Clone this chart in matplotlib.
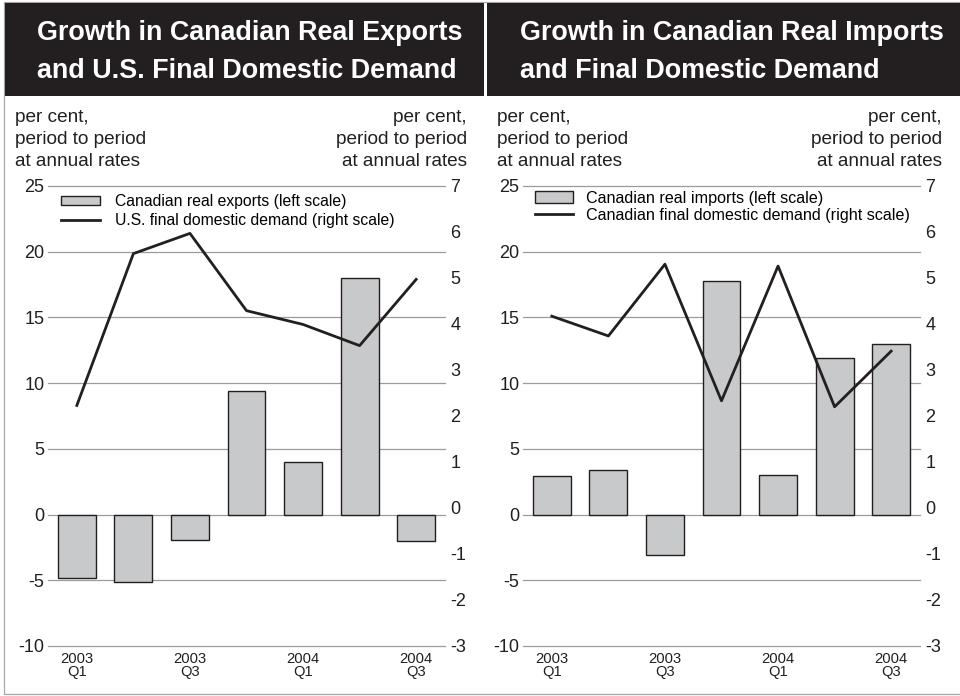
import matplotlib
matplotlib.use('Agg')
import matplotlib.pyplot as plt
from matplotlib.patches import Rectangle, Patch
from matplotlib.lines import Line2D
import numpy as np

# ---------------- data ----------------
quarters = ['2003Q1', '2003Q2', '2003Q3', '2003Q4', '2004Q1', '2004Q2', '2004Q3']
tick_pos = [0, 2, 4, 6]
tick_labels = ['2003\nQ1', '2003\nQ3', '2004\nQ1', '2004\nQ3']

exports = [-4.8, -5.1, -1.9, 9.4, 4.0, 18.0, -2.0]
us_fdd = [2.23, 5.53, 5.97, 4.29, 3.99, 3.53, 4.97]
imports = [2.9, 3.4, -3.1, 17.8, 3.0, 11.9, 13.0]
can_fdd = [4.17, 3.74, 5.30, 2.33, 5.26, 2.20, 3.41]

left_ticks = [-10, -5, 0, 5, 10, 15, 20, 25]
right_ticks = [-3, -2, -1, 0, 1, 2, 3, 4, 5, 6, 7]

titles = [("Growth in Canadian Real Exports", "and U.S. Final Domestic Demand"),
          ("Growth in Canadian Real Imports", "and Final Domestic Demand")]
legend_labels = [("Canadian real exports (left scale)", "U.S. final domestic demand (right scale)"),
                 ("Canadian real imports (left scale)", "Canadian final domestic demand (right scale)")]
unit_lines = ["per cent,", "period to period", "at annual rates"]

bar_series = [exports, imports]
line_series = [us_fdd, can_fdd]

# ---------------- style / layout ----------------
W, H = 960, 696
FONT = 'Liberation Sans'
INK = '#231f20'
BAR = '#c8c9ca'
GRID = '#9c9c9c'

plt.rcParams['font.family'] = [FONT, 'DejaVu Sans']

fig = plt.figure(figsize=(W / 100, H / 100), dpi=100)


def fx(x):
    return x / W


def fy(y):
    return 1 - y / H


# outer frame
fig.add_artist(Rectangle((fx(3.5), fy(694)), fx(960) - fx(3.5) + 0.01, fy(2) - fy(694),
                         transform=fig.transFigure, fill=False, edgecolor='#a8a8a8', lw=0.9))

ax_left = [48, 523]
title_x = [37, 520]
unit_left = [15, 497]
unit_right = [467, 942]
bands = [(5, 484), (487, 961)]
legend_xy = [(61.5, 194), (534.5, 190.5)]
legend_spacing = [0.26, 0.16]
legend_hh = [0.55, 0.75]
legend_fs = [11.35, 11.65]
legend_tp = [0.95, 0.82]

ax_w, ax_top, ax_bot = 397, 186, 646

title_objs = []
for p in range(2):
    b0, b1 = bands[p]
    fig.add_artist(Rectangle((fx(b0), fy(96)), fx(b1) - fx(b0), fy(3) - fy(96),
                             transform=fig.transFigure, facecolor=INK, edgecolor='none'))
    t1 = fig.text(fx(title_x[p]), fy(40), titles[p][0], color='white', fontweight='bold',
                  fontsize=19, ha='left', va='baseline', family=FONT)
    t2 = fig.text(fx(title_x[p]), fy(78), titles[p][1], color='white', fontweight='bold',
                  fontsize=19, ha='left', va='baseline', family=FONT)
    title_objs += [t1, t2]

    for i, s in enumerate(unit_lines):
        yb = [122, 144, 166][i]
        fig.text(fx(unit_left[p]), fy(yb), s, fontsize=13.7, color=INK, ha='left', va='baseline')
        fig.text(fx(unit_right[p]), fy(yb), s, fontsize=13.7, color=INK, ha='right', va='baseline')

    ax = fig.add_axes([fx(ax_left[p]), fy(ax_bot), ax_w / W, (ax_bot - ax_top) / H])
    x = np.arange(len(quarters))
    ax.bar(x, bar_series[p], width=0.67, color=BAR, edgecolor=INK, linewidth=1.0, zorder=3)
    ax.set_xlim(-0.51, 6.51)
    ax.set_ylim(-10, 25)
    ax.set_yticks(left_ticks)
    ax.set_yticklabels([str(v) for v in left_ticks], fontsize=13, color=INK)
    ax.set_xticks(tick_pos)
    ax.set_xticklabels(tick_labels, fontsize=10.6, color=INK, linespacing=0.95)
    ax.grid(axis='y', color=GRID, lw=0.9)
    ax.grid(axis='x', visible=False)
    for gl in ax.get_ygridlines():
        gl.set_clip_on(False)
    ax.set_axisbelow(True)
    ax.tick_params(axis='y', length=0, pad=2.5)
    ax.tick_params(axis='x', length=0, pad=4)
    for s in ax.spines.values():
        s.set_visible(False)

    ax2 = ax.twinx()
    ax2.plot(x, line_series[p], color=INK, lw=2.0, zorder=4)
    ax2.set_ylim(-3, 7)
    ax2.set_yticks(right_ticks)
    ax2.set_yticklabels([str(v) for v in right_ticks], fontsize=13, color=INK)
    ax2.tick_params(axis='y', length=0, pad=4)
    for s in ax2.spines.values():
        s.set_visible(False)

    handles = [Patch(facecolor=BAR, edgecolor=INK, linewidth=1.0),
               Line2D([], [], color=INK, lw=2.0)]
    lx, ly = legend_xy[p]
    ax2.legend(handles, legend_labels[p], loc='upper left',
               bbox_to_anchor=(fx(lx), fy(ly)), bbox_transform=fig.transFigure,
               frameon=False, fontsize=legend_fs[p], handlelength=2.45 * 11.35 / legend_fs[p],
               handleheight=legend_hh[p], handletextpad=legend_tp[p],
               labelspacing=legend_spacing[p], borderpad=0, borderaxespad=0)

# fit title size to reference width
fig.canvas.draw()
r = fig.canvas.get_renderer()
w = title_objs[0].get_window_extent(r).width
size = title_objs[0].get_fontsize() * 425.0 / w
for t in title_objs:
    t.set_fontsize(size)

fig.savefig('out.png', dpi=100)
